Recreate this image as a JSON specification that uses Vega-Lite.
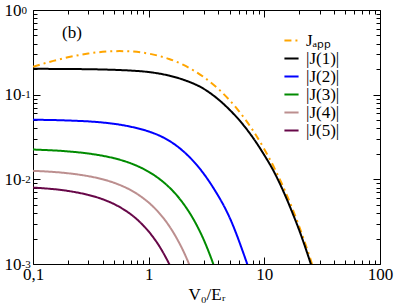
{
  "$schema": "https://vega.github.io/schema/vega-lite/v6.json",
  "width": 347,
  "height": 254,
  "autosize": {"type": "none"},
  "padding": {"left": 33, "top": 10, "right": 15, "bottom": 43},
  "background": "white",
  "config": {
    "view": {"stroke": null},
    "font": "Liberation Serif",
    "axis": {"grid": false, "domainColor": "black", "tickColor": "black", "labelColor": "black", "titleColor": "black", "labelFont": "Liberation Serif", "titleFont": "Liberation Serif", "domainWidth": 1, "tickWidth": 1, "labelFlush": false, "labelOverlap": false}
  },
  "data": {"values": [
    {"s": 0.1, "J": 0.2132, "series": "Jₐₚₚ"},
    {"s": 0.15, "J": 0.2507, "series": "Jₐₚₚ"},
    {"s": 0.2, "J": 0.276, "series": "Jₐₚₚ"},
    {"s": 0.3, "J": 0.3059, "series": "Jₐₚₚ"},
    {"s": 0.4, "J": 0.3205, "series": "Jₐₚₚ"},
    {"s": 0.56, "J": 0.327, "series": "Jₐₚₚ"},
    {"s": 0.7, "J": 0.324, "series": "Jₐₚₚ"},
    {"s": 1, "J": 0.3054, "series": "Jₐₚₚ"},
    {"s": 1.5, "J": 0.2641, "series": "Jₐₚₚ"},
    {"s": 2, "J": 0.2244, "series": "Jₐₚₚ"},
    {"s": 3, "J": 0.1611, "series": "Jₐₚₚ"},
    {"s": 4, "J": 0.1169, "series": "Jₐₚₚ"},
    {"s": 5, "J": 0.0862, "series": "Jₐₚₚ"},
    {"s": 6, "J": 0.0645, "series": "Jₐₚₚ"},
    {"s": 8, "J": 0.0375, "series": "Jₐₚₚ"},
    {"s": 10, "J": 0.0227, "series": "Jₐₚₚ"},
    {"s": 12, "J": 0.01425, "series": "Jₐₚₚ"},
    {"s": 15, "J": 0.00744, "series": "Jₐₚₚ"},
    {"s": 18, "J": 0.00408, "series": "Jₐₚₚ"},
    {"s": 20, "J": 0.00279, "series": "Jₐₚₚ"},
    {"s": 22, "J": 0.00193, "series": "Jₐₚₚ"},
    {"s": 25, "J": 0.00115, "series": "Jₐₚₚ"},
    {"s": 27, "J": 0.00082, "series": "Jₐₚₚ"},

    {"s": 0.1, "J": 0.202, "series": "|J(1)|"},
    {"s": 0.2, "J": 0.201, "series": "|J(1)|"},
    {"s": 0.3, "J": 0.1998, "series": "|J(1)|"},
    {"s": 0.5, "J": 0.1965, "series": "|J(1)|"},
    {"s": 0.7, "J": 0.1925, "series": "|J(1)|"},
    {"s": 1, "J": 0.185, "series": "|J(1)|"},
    {"s": 1.5, "J": 0.168, "series": "|J(1)|"},
    {"s": 2, "J": 0.15, "series": "|J(1)|"},
    {"s": 3, "J": 0.117, "series": "|J(1)|"},
    {"s": 4, "J": 0.088, "series": "|J(1)|"},
    {"s": 5, "J": 0.0665, "series": "|J(1)|"},
    {"s": 6, "J": 0.051, "series": "|J(1)|"},
    {"s": 8, "J": 0.0308, "series": "|J(1)|"},
    {"s": 10, "J": 0.0193, "series": "|J(1)|"},
    {"s": 12, "J": 0.0126, "series": "|J(1)|"},
    {"s": 15, "J": 0.00665, "series": "|J(1)|"},
    {"s": 18, "J": 0.00365, "series": "|J(1)|"},
    {"s": 20, "J": 0.00252, "series": "|J(1)|"},
    {"s": 22, "J": 0.00175, "series": "|J(1)|"},
    {"s": 25, "J": 0.00104, "series": "|J(1)|"},
    {"s": 27, "J": 0.00075, "series": "|J(1)|"},

    {"s": 0.1, "J": 0.0506, "series": "|J(2)|"},
    {"s": 0.2, "J": 0.04955, "series": "|J(2)|"},
    {"s": 0.35, "J": 0.04764, "series": "|J(2)|"},
    {"s": 0.5, "J": 0.04531, "series": "|J(2)|"},
    {"s": 0.7, "J": 0.04182, "series": "|J(2)|"},
    {"s": 1, "J": 0.03676, "series": "|J(2)|"},
    {"s": 1.3, "J": 0.03183, "series": "|J(2)|"},
    {"s": 1.87, "J": 0.02311, "series": "|J(2)|"},
    {"s": 2.6, "J": 0.01482, "series": "|J(2)|"},
    {"s": 3.6, "J": 0.00804, "series": "|J(2)|"},
    {"s": 5.05, "J": 0.003453, "series": "|J(2)|"},
    {"s": 7.03, "J": 0.001047, "series": "|J(2)|"},
    {"s": 7.6, "J": 0.00077, "series": "|J(2)|"},

    {"s": 0.1, "J": 0.02249, "series": "|J(3)|"},
    {"s": 0.2, "J": 0.02138, "series": "|J(3)|"},
    {"s": 0.3, "J": 0.02019, "series": "|J(3)|"},
    {"s": 0.4, "J": 0.01898, "series": "|J(3)|"},
    {"s": 0.5, "J": 0.01778, "series": "|J(3)|"},
    {"s": 0.7, "J": 0.01545, "series": "|J(3)|"},
    {"s": 1.0, "J": 0.01229, "series": "|J(3)|"},
    {"s": 1.3, "J": 0.0096, "series": "|J(3)|"},
    {"s": 1.6, "J": 0.00741, "series": "|J(3)|"},
    {"s": 2.0, "J": 0.00514, "series": "|J(3)|"},
    {"s": 2.5, "J": 0.00318, "series": "|J(3)|"},
    {"s": 3.0, "J": 0.00192, "series": "|J(3)|"},
    {"s": 3.3, "J": 0.0014, "series": "|J(3)|"},
    {"s": 3.6, "J": 0.00102, "series": "|J(3)|"},
    {"s": 3.9, "J": 0.00074, "series": "|J(3)|"},

    {"s": 0.1, "J": 0.0126, "series": "|J(4)|"},
    {"s": 0.2, "J": 0.0118, "series": "|J(4)|"},
    {"s": 0.3, "J": 0.01091, "series": "|J(4)|"},
    {"s": 0.4, "J": 0.01002, "series": "|J(4)|"},
    {"s": 0.5, "J": 0.00912, "series": "|J(4)|"},
    {"s": 0.6, "J": 0.00827, "series": "|J(4)|"},
    {"s": 0.7, "J": 0.00746, "series": "|J(4)|"},
    {"s": 0.8, "J": 0.00669, "series": "|J(4)|"},
    {"s": 0.9, "J": 0.00597, "series": "|J(4)|"},
    {"s": 1.0, "J": 0.00532, "series": "|J(4)|"},
    {"s": 1.2, "J": 0.00417, "series": "|J(4)|"},
    {"s": 1.4, "J": 0.00323, "series": "|J(4)|"},
    {"s": 1.6, "J": 0.00247, "series": "|J(4)|"},
    {"s": 1.8, "J": 0.00187, "series": "|J(4)|"},
    {"s": 2.0, "J": 0.00141, "series": "|J(4)|"},
    {"s": 2.2, "J": 0.00105, "series": "|J(4)|"},
    {"s": 2.4, "J": 0.00077, "series": "|J(4)|"},

    {"s": 0.1, "J": 0.00799, "series": "|J(5)|"},
    {"s": 0.2, "J": 0.0073, "series": "|J(5)|"},
    {"s": 0.3, "J": 0.00655, "series": "|J(5)|"},
    {"s": 0.4, "J": 0.00582, "series": "|J(5)|"},
    {"s": 0.5, "J": 0.00512, "series": "|J(5)|"},
    {"s": 0.6, "J": 0.00446, "series": "|J(5)|"},
    {"s": 0.7, "J": 0.00387, "series": "|J(5)|"},
    {"s": 0.8, "J": 0.00333, "series": "|J(5)|"},
    {"s": 0.9, "J": 0.00284, "series": "|J(5)|"},
    {"s": 1.0, "J": 0.00242, "series": "|J(5)|"},
    {"s": 1.1, "J": 0.00205, "series": "|J(5)|"},
    {"s": 1.2, "J": 0.00173, "series": "|J(5)|"},
    {"s": 1.3, "J": 0.00145, "series": "|J(5)|"},
    {"s": 1.4, "J": 0.00121, "series": "|J(5)|"},
    {"s": 1.5, "J": 0.00101, "series": "|J(5)|"},
    {"s": 1.6, "J": 0.00084, "series": "|J(5)|"},
    {"s": 1.7, "J": 0.00069, "series": "|J(5)|"}
  ]},
  "layer": [
    {
      "mark": {"type": "line", "strokeWidth": 2, "interpolate": "monotone", "clip": true},
      "encoding": {
        "x": {"field": "s", "type": "quantitative", "scale": {"type": "log", "domain": [0.1, 100]},
          "axis": {"orient": "bottom", "values": [0.1, 1, 10, 100], "tickSize": -7, "labelPadding": 9, "labelFontSize": 17,
            "labelExpr": "datum.value < 0.5 ? '0,1' : datum.value < 5 ? '1' : datum.value < 50 ? '10' : '100'",
            "title": "V₀/Eᵣ", "titleFontSize": 17, "titleFontWeight": "normal", "titlePadding": 4}},
        "y": {"field": "J", "type": "quantitative", "scale": {"type": "log", "domain": [0.001, 1]},
          "axis": {"orient": "left", "values": [0.001, 0.01, 0.1, 1], "tickSize": -7, "labelPadding": 19, "labelFontSize": 17,
            "labelExpr": "'10'", "labelDy": 3, "title": null}},
        "color": {"field": "series", "type": "nominal",
          "scale": {"domain": ["Jₐₚₚ", "|J(1)|", "|J(2)|", "|J(3)|", "|J(4)|", "|J(5)|"],
                    "range": ["#FFA500", "#000000", "#0000FF", "#008B00", "#BC8F8F", "#670748"]},
          "legend": {"orient": "none", "legendX": 250, "legendY": 22, "title": null, "labelFontSize": 17, "labelFont": "Liberation Serif",
            "symbolType": "stroke", "symbolStrokeWidth": 2, "symbolSize": 200, "rowPadding": 0, "labelOffset": 6, "padding": 0, "labelLimit": 200}},
        "strokeDash": {"field": "series", "type": "nominal",
          "scale": {"domain": ["Jₐₚₚ", "|J(1)|", "|J(2)|", "|J(3)|", "|J(4)|", "|J(5)|"],
                    "range": [[7, 4, 2, 4], [1, 0], [1, 0], [1, 0], [1, 0], [1, 0]]},
          "legend": {"orient": "none", "legendX": 250, "legendY": 22, "title": null, "labelFontSize": 17, "labelFont": "Liberation Serif",
            "symbolType": "stroke", "symbolStrokeWidth": 2, "symbolSize": 200, "rowPadding": 0, "labelOffset": 6, "padding": 0, "labelLimit": 200}}
      }
    },
    {
      "mark": {"type": "point", "opacity": 0},
      "encoding": {
        "x": {"field": "s", "type": "quantitative", "scale": {"type": "log", "domain": [0.1, 100]},
          "axis": {"orient": "bottom", "values": [0.2, 0.3, 0.4, 0.5, 0.6, 0.7, 0.8, 0.9, 2, 3, 4, 5, 6, 7, 8, 9, 20, 30, 40, 50, 60, 70, 80, 90], "tickSize": -4, "labels": false, "domain": false, "title": null}},
        "y": {"field": "J", "type": "quantitative", "scale": {"type": "log", "domain": [0.001, 1]},
          "axis": {"orient": "left", "values": [0.002, 0.003, 0.004, 0.005, 0.006, 0.007, 0.008, 0.009, 0.02, 0.03, 0.04, 0.05, 0.06, 0.07, 0.08, 0.09, 0.2, 0.3, 0.4, 0.5, 0.6, 0.7, 0.8, 0.9], "tickSize": -4, "labels": false, "domain": false, "title": null}}
      }
    },
    {
      "mark": {"type": "point", "opacity": 0},
      "encoding": {
        "x": {"field": "s", "type": "quantitative", "scale": {"type": "log", "domain": [0.1, 100]},
          "axis": {"orient": "top", "values": [0.1, 1, 10, 100], "tickSize": -7, "labels": false, "title": null}},
        "y": {"field": "J", "type": "quantitative", "scale": {"type": "log", "domain": [0.001, 1]},
          "axis": {"orient": "right", "values": [0.001, 0.01, 0.1, 1], "tickSize": -7, "labels": false, "title": null}}
      }
    },
    {
      "mark": {"type": "point", "opacity": 0},
      "encoding": {
        "x": {"field": "s", "type": "quantitative", "scale": {"type": "log", "domain": [0.1, 100]},
          "axis": {"orient": "top", "values": [0.2, 0.3, 0.4, 0.5, 0.6, 0.7, 0.8, 0.9, 2, 3, 4, 5, 6, 7, 8, 9, 20, 30, 40, 50, 60, 70, 80, 90], "tickSize": -4, "labels": false, "domain": false, "title": null}},
        "y": {"field": "J", "type": "quantitative", "scale": {"type": "log", "domain": [0.001, 1]},
          "axis": {"orient": "right", "values": [0.002, 0.003, 0.004, 0.005, 0.006, 0.007, 0.008, 0.009, 0.02, 0.03, 0.04, 0.05, 0.06, 0.07, 0.08, 0.09, 0.2, 0.3, 0.4, 0.5, 0.6, 0.7, 0.8, 0.9], "tickSize": -4, "labels": false, "domain": false, "title": null}}
      }
    },
    {
      "mark": {"type": "point", "opacity": 0},
      "encoding": {
        "x": {"field": "s", "type": "quantitative", "scale": {"type": "log", "domain": [0.1, 100]}, "axis": null},
        "y": {"field": "J", "type": "quantitative", "scale": {"type": "log", "domain": [0.001, 1]},
          "axis": {"orient": "left", "values": [0.001, 0.01, 0.1, 1], "ticks": false, "domain": false, "labelPadding": 12, "labelAlign": "left", "labelFontSize": 11,
            "labelExpr": "datum.value > 0.5 ? '0' : datum.value > 0.05 ? '-1' : datum.value > 0.005 ? '-2' : '-3'", "labelDy": -3, "title": null}}
      }
    },
    {
      "data": {"values": [{"label": "(b)"}]},
      "mark": {"type": "text", "fontSize": 17, "font": "Liberation Serif", "align": "center", "baseline": "middle", "color": "black"},
      "encoding": {
        "x": {"datum": 0.217, "type": "quantitative", "scale": {"type": "log", "domain": [0.1, 100]}, "axis": null},
        "y": {"datum": 0.535, "type": "quantitative", "scale": {"type": "log", "domain": [0.001, 1]}, "axis": null},
        "text": {"field": "label"}
      }
    }
  ],
  "resolve": {"axis": {"x": "independent", "y": "independent"}}
}
